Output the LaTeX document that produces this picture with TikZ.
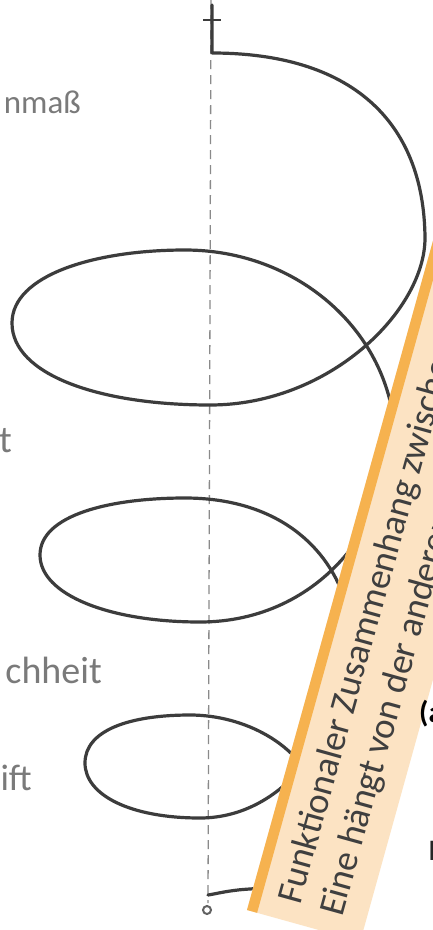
\documentclass[tikz,border=0pt]{standalone}
\usepackage{fontspec}
\setmainfont{Carlito}
\definecolor{spiral}{HTML}{3C3C3C}
\definecolor{axisgray}{HTML}{8A8A8A}
\definecolor{notefill}{HTML}{FCE3C3}
\definecolor{notestripe}{HTML}{F6B24F}
\definecolor{notetext}{HTML}{3F3F3F}
\definecolor{sidetext}{HTML}{7A7A7A}
\tikzset{
  spiralline/.style={draw=spiral, line width=3.2pt, line cap=round, line join=round},
  axisline/.style={draw=axisgray, line width=1.3pt, dash pattern=on 9pt off 6pt},
  sidelabel/.style={inner sep=0pt, anchor=base east, text=sidetext},
  notelabel/.style={inner sep=0pt, anchor=base west, rotate=74.46, text=notetext, font=\fontsize{37}{44}\selectfont},
}
\begin{document}
\begin{tikzpicture}[x=1pt,y=-1pt]
\useasboundingbox (0,0) rectangle (433,930);
\clip (0,0) rectangle (433,930);
\fill[white] (0,0) rectangle (433,930);
% axis
\coordinate (axtop) at (211,0);
\coordinate (axbot) at (208,903);
\draw[axisline] (axtop) -- (axbot);
% top marker
\coordinate (stemtop) at (212,5);
\coordinate (start) at (212,53);
\coordinate (barL) at (203,20);
\coordinate (barR) at (221,20);
\draw[spiral, line width=2.4pt] (barL) -- (barR);
% spiral
\draw[spiralline] (stemtop) -- (start)
  .. controls (350,53) and (424,120) .. (425,238)
  .. controls (425,310) and (330,405) .. (210,405)
  .. controls (100,405) and (12,375) .. (12,323)
  .. controls (12,275) and (95,250) .. (185,250)
  .. controls (290,250) and (375,320) .. (392,410)
  .. controls (400,520) and (320,622) .. (200,622)
  .. controls (110,622) and (40,595) .. (40,555)
  .. controls (40,515) and (110,498) .. (185,498)
  .. controls (270,498) and (325,540) .. (345,600)
  .. controls (360,720) and (290,818) .. (200,818)
  .. controls (130,818) and (85,795) .. (85,763)
  .. controls (85,730) and (130,715) .. (190,715)
  .. controls (245,715) and (300,745) .. (315,790)
  .. controls (330,850) and (300,886) .. (250,889)
  .. controls (230,890) and (215,894) .. (208,895);
% end marker
\coordinate (endmark) at (207,910);
\draw[draw=spiral!80, line width=2pt] (endmark) circle (4);
% side labels
\node[sidelabel, font=\fontsize{33}{38}\selectfont] (l1) at (81,113) {nmaß};
\node[sidelabel, font=\fontsize{38}{44}\selectfont] (l2) at (12,452) {t};
\node[sidelabel, font=\fontsize{38}{44}\selectfont] (l3) at (102,683) {chheit};
\node[sidelabel, font=\fontsize{37}{44}\selectfont] (l4) at (32,790) {ift};
% note
\coordinate (BL) at (247,910);
\coordinate (BR) at (360.2,941.5);
\coordinate (TR) at (628,-22);
\coordinate (TL) at (514.8,-53.5);
\coordinate (SB) at (257.1,912.8);
\coordinate (ST) at (524.9,-50.7);
\fill[notefill] (BL) -- (BR) -- (TR) -- (TL) -- cycle;
\fill[notestripe] (BL) -- (SB) -- (ST) -- (TL) -- cycle;
\node[notelabel] (n1) at (300,906) {Funktionaler Zusammenhang zwischen};
\node[notelabel] (n2) at (342,918) {Eine hängt von der anderen};
% right fragments
\node[inner sep=0pt, anchor=base west, font=\bfseries\fontsize{30}{36}\selectfont] (fa) at (419,722) {(a};
\node[inner sep=0pt, anchor=base west, text=black!85, font=\fontsize{30}{36}\selectfont] (fb) at (428,860) {I};
\end{tikzpicture}
\end{document}
